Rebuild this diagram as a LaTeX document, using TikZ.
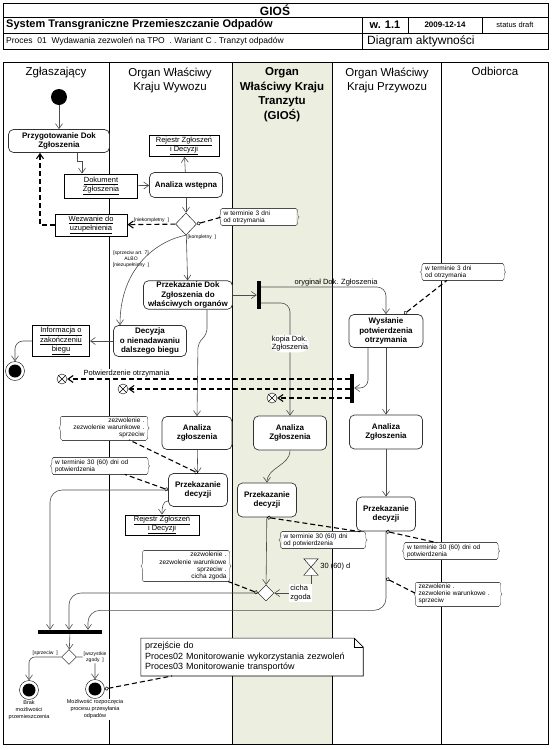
\documentclass[tikz,border=0pt]{standalone}
\usepackage{fontspec}
\setmainfont{Liberation Sans}
\usetikzlibrary{arrows.meta,positioning,shapes.geometric,decorations.pathreplacing}
\definecolor{tranzyt}{RGB}{236,238,223}
% notatka z klamrami
\newcommand{\cnote}[4][]{%
  \node [cnote,#1] at (#2) (#3) {#4};
  \draw[cline] (#3.north west) -- (#3.north east) (#3.south west) -- (#3.south east);
  \draw[cline,decorate,decoration={brace,amplitude=3pt}] (#3.south west) -- (#3.north west);
  \draw[cline,decorate,decoration={brace,amplitude=3pt}] (#3.north east) -- (#3.south east);}

\begin{document}
\begin{tikzpicture}[x=1pt,y=-1pt,
  >={Straight Barb[length=5pt,width=7pt]},
  act/.style={rectangle,rounded corners=5pt,draw=black!80,line width=0.7pt,fill=white,align=center,inner sep=1pt,font=\bfseries\fontsize{8}{9.5}\selectfont},
  obj/.style={rectangle,draw,line width=0.8pt,fill=white,align=center,inner sep=1pt,font=\fontsize{7.5}{9}\selectfont},
  dec/.style={diamond,draw,fill=white,inner sep=0pt,minimum width=16pt,minimum height=16pt},
  bar/.style={rectangle,fill=black,inner sep=0pt},
  init/.style={circle,fill=black,inner sep=0pt,minimum size=16pt},
  fin/.style={circle,draw,fill=white,inner sep=0pt,minimum size=19pt,path picture={\fill[black] (path picture bounding box.center) circle (6.5pt);}},
  ffin/.style={circle,draw,fill=white,inner sep=0pt,minimum size=10pt,path picture={\draw (path picture bounding box.north west) -- (path picture bounding box.south east) (path picture bounding box.south west) -- (path picture bounding box.north east);}},
  cnote/.style={fill=white,align=left,inner sep=1.5pt,font=\fontsize{6.5}{7.2}\selectfont},
  cline/.style={thin,black!70},
  bnote/.style={fill=white,align=left,inner sep=4pt,text width=214pt,font=\fontsize{9}{10.5}\selectfont},
  lane/.style={anchor=north,align=center,font=\fontsize{11.5}{14.5}\selectfont},
  lbl/.style={inner sep=1pt,font=\fontsize{7.5}{8.5}\selectfont},
  guard/.style={inner sep=1pt,align=center,font=\fontsize{5}{6}\selectfont},
  small/.style={inner sep=1pt,align=center,font=\fontsize{5.5}{7}\selectfont},
  flow/.style={->,draw=black!70,line width=0.6pt},
  dflow/.style={->,draw=black,line width=1.1pt,dash pattern=on 5pt off 3pt},
  attach/.style={{Circle[open,length=4pt,line width=0.5pt]}-,line width=1.1pt,dash pattern=on 5pt off 3pt}]
\useasboundingbox (0,0) rectangle (554,750);
%
% naglowek
\draw[line width=0.8pt] (3,3) rectangle (548,49);
\draw[line width=0.6pt] (3,17) -- (548,17) (3,33) -- (548,33) (362,17) -- (362,49) (408,17) -- (408,33) (482,17) -- (482,33);
\node [font=\bfseries\fontsize{12}{14}\selectfont] at (275,10) (hgios) {GIOŚ};
\node [anchor=west,font=\bfseries\fontsize{11}{13}\selectfont,inner sep=0pt] at (6,25) (htitle) {System Transgraniczne Przemieszczanie Odpadów};
\node [font=\bfseries\fontsize{11}{13}\selectfont] at (385,25) (hver) {w. 1.1};
\node [font=\bfseries\fontsize{8}{10}\selectfont] at (445,25) (hdate) {2009-12-14};
\node [font=\fontsize{7.5}{9}\selectfont] at (515,25) (hstat) {status draft};
\node [anchor=west,font=\fontsize{8.5}{10}\selectfont,inner sep=0pt] at (6,41) (hproc) {Proces\ \ 01\ \ Wydawania zezwoleń na TPO\ \ . Wariant C . Tranzyt odpadów};
\node [anchor=west,font=\fontsize{12}{14}\selectfont,inner sep=0pt] at (367,41) (hdiag) {Diagram aktywności};
%
% tory
\fill[tranzyt] (232,62) rectangle (332,744);
\draw[line width=0.8pt] (3,62) rectangle (548,744);
\foreach \x in {109,232,332,441} \draw[line width=0.8pt] (\x,62) -- (\x,744);
\node [lane] at (56,64) (lzgl) {Zgłaszający};
\node [lane] at (170,64) (lwyw) {Organ Właściwy\\Kraju Wywozu};
\node [lane,font=\bfseries\fontsize{11.5}{14.5}\selectfont] at (282,64) (ltra) {Organ\\Właściwy Kraju\\Tranzytu\\(GIOŚ)};
\node [lane] at (387,64) (lprz) {Organ Właściwy\\Kraju Przywozu};
\node [lane] at (495,64) (lodb) {Odbiorca};
%
% wezly
\node [init] at (59,97) (start) {};
\node [act,minimum width=101pt,minimum height=23pt] at (59,141) (prep) {Przygotowanie Dok\\Zgłoszenia};
\node [obj,minimum width=73pt,minimum height=24pt] at (101,186) (doc) {\underline{Dokument}\\\underline{Zgłoszenia}};
\node [act,minimum width=73pt,minimum height=25pt] at (186,185) (awst) {Analiza wstępna};
\node [obj,minimum width=70pt,minimum height=21pt] at (184,146) (rej1) {\underline{Rejestr Zgłoszeń}\\\underline{i Decyzji}};
\node [dec,minimum width=21pt,minimum height=22pt] at (186,224) (d1) {};
\node [obj,minimum width=72pt,minimum height=22pt] at (91,225) (wez) {\underline{Wezwanie do}\\\underline{uzupełnienia}};
\cnote[text width=71pt]{259,217}{n1}{w terminie 3 dni\\od otrzymania}
\node [guard] at (131,259) (g1) {[sprzeciw art. 7]\\ALBO\\{[niezupełniony\ \ ]}};
\node [act,minimum width=89pt,minimum height=28pt] at (188,295) (pdok) {Przekazanie Dok\\Zgłoszenia do\\właściwych organów};
\node [act,minimum width=73pt,minimum height=31pt] at (150,341) (dec) {Decyzja\\o nienadawaniu\\dalszego biegu};
\node [obj,minimum width=57pt,minimum height=31pt] at (61,341) (inf) {\underline{Informacja o}\\\underline{zakończeniu}\\\underline{biegu}};
\node [fin] at (15,371) (end1) {};
\node [bar,minimum width=4pt,minimum height=28pt] at (259,295) (bar1) {};
\node [act,minimum width=74pt,minimum height=33pt] at (386,331) (wys) {Wysłanie\\potwierdzenia\\otrzymania};
\cnote[text width=76pt]{463,272}{n2}{w terminie 3 dni\\od otrzymania}
\node [bar,minimum width=4pt,minimum height=29pt] at (352,388) (bar2) {};
\node [ffin] at (62,379) (ff1) {};
\node [ffin] at (123,389) (ff2) {};
\node [ffin] at (272,398) (ff3) {};
\node [act,minimum width=70pt,minimum height=33pt] at (197,433) (anw) {Analiza\\zgłoszenia};
\node [act,minimum width=59pt,minimum height=33pt] at (198,490) (pdw) {Przekazanie\\decyzji};
\node [obj,minimum width=74pt,minimum height=20pt] at (162,525) (rej2) {\underline{Rejestr Zgłoszeń}\\\underline{i Decyzji}};
\cnote[align=right,text width=81pt]{104,428}{n3}{zezwolenie .\\zezwolenie warunkowe .\\sprzeciw}
\cnote[text width=90pt]{100,466}{n4}{w terminie 30 (60) dni od\\potwierdzenia}
\cnote[align=right,text width=81pt]{186,566}{n5}{zezwolenie .\\zezwolenie warunkowe\\sprzeciw .\\cicha zgoda}
\node [act,minimum width=73pt,minimum height=34pt] at (290,433) (ant) {Analiza\\Zgłoszenia};
\node [act,minimum width=59pt,minimum height=34pt] at (267,500) (pdt) {Przekazanie\\decyzji};
\cnote[text width=79pt]{323,540}{n6}{w terminie 30 (60) dni\\od potwierdzenia}
\node [inner sep=0pt,minimum width=14pt,minimum height=16pt] at (311,567) (hg) {};
\filldraw[fill=white,thin] (hg.north west) -- (hg.north east) -- (hg.south west) -- (hg.south east) -- cycle;
\node [lbl,right=1pt of hg] (hgt) {30 (60) d};
\node [dec] at (266,593) (d2) {};
\node [act,minimum width=73pt,minimum height=34pt] at (386,432) (anp) {Analiza\\Zgłoszenia};
\node [act,minimum width=59pt,minimum height=34pt] at (386,514) (pdp) {Przekazanie\\decyzji};
\cnote[text width=88pt]{451,551}{n7}{w terminie 30 (60) dni od\\potwierdzenia}
\cnote[text width=79pt]{458,594}{n8}{zezwolenie .\\zezwolenie warunkowe .\\sprzeciw}
\node [bar,minimum width=64pt,minimum height=4pt] at (70,632) (join) {};
\node [dec,minimum width=15pt,minimum height=15pt] at (69,657) (d3) {};
\node [fin] at (29,690) (end2) {};
\node [fin] at (95,689) (end3) {};
\node [small,below=0pt of end2] (t2) {Brak\\możliwości\\przemieszczenia};
\node [small,fill=white,below=0pt of end3] (t3) {Możliwość rozpoczęcia\\procesu przesyłania\\odpadów};
\node [bnote] at (252,657) (pn) {przejście do\\Proces02 Monitorowanie wykorzystania zezwoleń\\Proces03 Monitorowanie transportów};
\draw[line width=0.6pt] (pn.north west) -- ([xshift=-9pt]pn.north east) -- ([yshift=-9pt]pn.north east) -- (pn.south east) -- (pn.south west) -- cycle;
\draw[line width=0.6pt] ([xshift=-9pt]pn.north east) |- ([yshift=-9pt]pn.north east);
%
% przeplywy
\path[flow] (start) edge (prep);
\draw[flow] ([xshift=18pt]prep.south) -- ++(0,8) -- ++(5,0) -- ([xshift=-19pt]doc.north);
\path[flow] (doc) edge (awst);
\path[flow] (awst) edge (rej1);
\path[flow] (awst) edge (d1);
\path[dflow] (d1) edge node[guard,above] {[niekompletny\ \ ]} (wez);
\draw[dflow] (wez.west) -| ([xshift=-19pt]prep.south);
\draw[attach] (d1.east) -- (n1.west);
\path[flow] (d1) edge node[guard,pos=0.06,right] {[kompletny\ \ ]} (pdok);
\draw[flow] (d1.south) .. controls (160,240) and (120,265) .. ([xshift=-30pt]dec.north);
\path[flow] (dec) edge (inf);
\draw[flow,rounded corners=8pt] (inf.west) -| (end1.north);
\path[flow] (pdok) edge (bar1);
\draw[flow,rounded corners=9pt] ([yshift=8pt]bar1.east) -| node[lbl,pos=0.3,above] {oryginał Dok. Zgłoszenia} (wys.north);
\draw[flow,rounded corners=9pt] ([yshift=-8pt]bar1.east) -| node[lbl,fill=white,align=left,pos=0.68] {kopia Dok.\\Zgłoszenia} (ant.north);
\draw[attach] ([xshift=18pt]wys.north) -- ([xshift=-16pt]n2.south);
\draw[flow,rounded corners=8pt] ([xshift=-18pt]wys.south) |- (bar2.east);
\path[flow] (wys) edge (anp);
\draw[dflow] (bar2.west |- ff1) -- node[lbl,fill=white,pos=0.79,above=0pt] {Potwierdzenie otrzymania} (ff1);
\draw[dflow] (bar2.west |- ff2) -- (ff2);
\draw[dflow] (bar2.west |- ff3) -- (ff3);
\draw[flow,rounded corners=6pt] ([xshift=19pt]pdok.south) -- ++(0,25) -- ++(-9,8) -- (anw.north);
\path[flow] (anw) edge (pdw);
\draw[flow] (pdw.200) to[out=180,in=90] (rej2.north);
\draw[attach] (pdw.north) -- ([xshift=-17pt]n3.south east);
\draw[attach] (pdw.west) -- ([xshift=-22pt]n4.south east);
\draw[flow,rounded corners=12pt] (pdw.west) -| ([xshift=-20pt]join.north);
\draw[flow] (ant.south) to[out=-90,in=90] (pdt.north);
\path[flow] (pdt) edge (d2);
\draw[attach] (pdt.south) -- ([xshift=-4pt]n6.north east);
\draw[flow] (hg.south) |- node[lbl,fill=white,align=left,pos=0.64] {cicha\\zgoda} (d2.east);
\draw[attach] (d2.west) -- (n5.south east);
\draw[flow,rounded corners=12pt] (d2.west) -| ([xshift=-1pt]join.north);
\path[flow] (anp) edge (pdp);
\draw[attach] (pdp.south) -- ([xshift=-14pt]n7.north);
\draw[flow,rounded corners=12pt] (pdp.south) -- ++(0,79) -| ([xshift=18pt]join.north);
\draw[attach] ([yshift=-47pt]pdp.south) -- (n8.west);
\path[flow] (join) edge (d3);
\draw[flow,rounded corners=6pt] (d3.west) -| node[guard,pos=0.25,above] {[sprzeciw\ \ ]} (end2.north);
\draw[flow,rounded corners=6pt] (d3.east) -| node[guard,fill=white,pos=0.5] {[wszystkie\\zgody\ \ ]} (end3.north);
\draw[attach] (end3.east) -- ([xshift=-80pt]pn.south);

\end{tikzpicture}
\end{document}
